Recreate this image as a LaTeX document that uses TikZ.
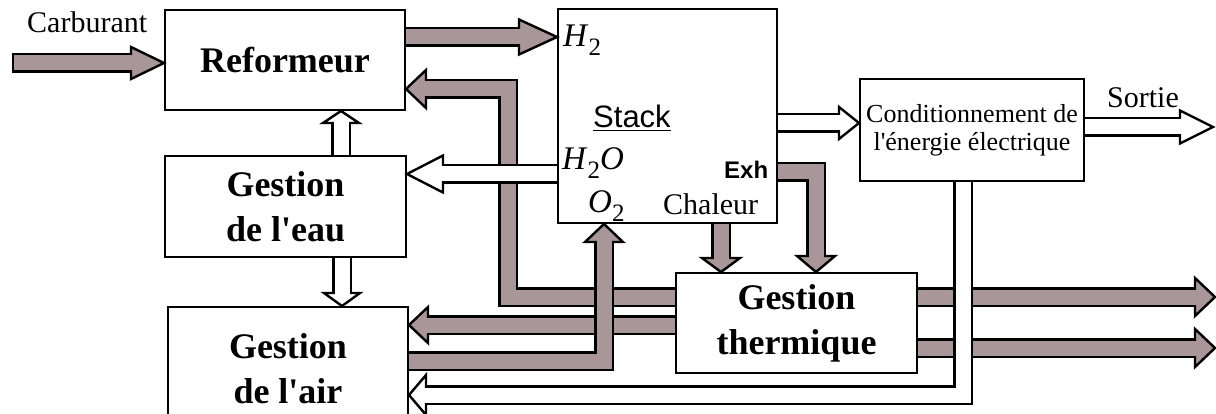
\documentclass[tikz,border=0pt]{standalone}
\usepackage{fontspec}
\setmainfont{Liberation Serif}
\setsansfont{Liberation Sans}
\usetikzlibrary{calc}
\definecolor{hatch}{RGB}{168,150,152}
% arrow heads: #1 fill, #2 tip, #3 length, #4 half width
\newcommand\headE[4]{\draw[hd,fill=#1] (#2) -- ++(-#3,-#4) -- ++(0,2*#4) -- cycle;}
\newcommand\headW[4]{\draw[hd,fill=#1] (#2) -- ++(#3,-#4) -- ++(0,2*#4) -- cycle;}
\newcommand\headN[4]{\draw[hd,fill=#1] (#2) -- ++(-#4,#3) -- ++(2*#4,0) -- cycle;}
\newcommand\headS[4]{\draw[hd,fill=#1] (#2) -- ++(-#4,-#3) -- ++(2*#4,0) -- cycle;}
% fat arrows: #1 colour, #2 start (or path), #3 tip, #4 head length, #5 head half width
\newcommand\fatE[5]{\draw[sout] (#2) -- ($(#3)+(-#4,0)$);\headE{#1}{#3}{#4}{#5}\draw[sin,draw=#1] (#2) -- ($(#3)+(-#4+1.6,0)$);}
\newcommand\fatW[5]{\draw[sout] (#2) -- ($(#3)+(#4,0)$);\headW{#1}{#3}{#4}{#5}\draw[sin,draw=#1] (#2) -- ($(#3)+(#4-1.6,0)$);}
\newcommand\fatN[5]{\draw[sout] (#2) -- ($(#3)+(0,#4)$);\headN{#1}{#3}{#4}{#5}\draw[sin,draw=#1] (#2) -- ($(#3)+(0,#4-1.6)$);}
\newcommand\fatS[5]{\draw[sout] (#2) -- ($(#3)+(0,-#4)$);\headS{#1}{#3}{#4}{#5}\draw[sin,draw=#1] (#2) -- ($(#3)+(0,-#4+1.6)$);}
\newcommand\apos{\textquotesingle}
\newcommand\subtwo{\raisebox{-9pt}{\fontsize{25}{25}\selectfont 2}}
\begin{document}
\begin{tikzpicture}[x=1pt,y=-1pt,
  box/.style={draw, line width=2pt, fill=white, inner sep=0pt, align=center,
    font=\bfseries\fontsize{36}{45}\selectfont},
  sout/.style={line width=19.8pt, draw=black, line join=miter, line cap=butt},
  sin/.style={line width=15pt, line join=miter, line cap=butt},
  hd/.style={line width=2.4pt, line join=miter, draw=black},
  lbl/.style={inner sep=0pt, anchor=base west, font=\fontsize{30}{30}\selectfont},
  chem/.style={inner sep=0pt, anchor=base west, font=\fontsize{33}{33}\selectfont}]
\path[use as bounding box, clip] (0,0) rectangle (1216,414);

% boxes
\node[box, minimum width=240pt, minimum height=100pt] (ref) at (285,60) {Reformeur};
\node[box, minimum width=219pt, minimum height=214pt] (stack) at (667.5,116) {};
\node[box, minimum width=224pt, minimum height=102pt,
  font=\fontsize{26}{28}\selectfont] (cond) at (972,130) {Conditionnement de\\l\apos énergie électrique};
\node[box, minimum width=241pt, minimum height=101pt] (eau) at (285.5,206.5) {Gestion\\de l\apos eau};
\node[box, minimum width=240pt, minimum height=123pt] (air) at (288,368.5) {Gestion\\de l\apos air};
\node[box, minimum width=241pt, minimum height=100pt] (therm) at (796.5,323) {Gestion\\thermique};

% coordinates
\coordinate (c0) at (12,63);
\coordinate (c1) at (ref.west |- c0);
\coordinate (h2a) at ($(ref.east)+(0,-23)$);
\coordinate (h2b) at (stack.west |- h2a);
\coordinate (a3s) at ($(therm.west)+(0,-26)$);
\coordinate (a3t) at ($(ref.east)+(0,29)$);
\coordinate (a3b1) at ($(a3s)+(-167,0)$);
\coordinate (a3b2) at (a3b1 |- a3t);
\coordinate (wa) at ($(stack.west)+(0,58)$);
\coordinate (wb) at (eau.east |- wa);
\coordinate (a5s) at ($(therm.west)+(0,2)$);
\coordinate (a5t) at (air.east |- a5s);
\coordinate (o2s) at ($(air.east)+(0,-7.5)$);
\coordinate (o2b) at ($(air.east)+(195,-7.5)$);
\coordinate (o2t) at (o2b |- stack.south);
\coordinate (cht) at ($(therm.north)+(-75.5,0)$);
\coordinate (chs) at (cht |- stack.south);
\coordinate (exs) at ($(stack.east)+(0,56)$);
\coordinate (exb) at ($(stack.east)+(38,56)$);
\coordinate (ext) at (exb |- therm.north);
\coordinate (t1s) at ($(therm.east)+(0,-26)$);
\coordinate (t1t) at (1215,297);
\coordinate (t2s) at ($(therm.east)+(0,25)$);
\coordinate (t2t) at (1215,348);
\coordinate (es) at ($(cond.south)+(-9,0)$);
\coordinate (ey) at (1000,395);
\coordinate (eb) at (es |- ey);
\coordinate (et) at (air.east |- eb);
\coordinate (pa) at ($(stack.east)+(0,7)$);
\coordinate (pb) at (cond.west |- pa);
\coordinate (sa) at ($(cond.east)+(0,-3)$);
\coordinate (sb) at (1213,127);
\coordinate (ua) at ($(eau.north)+(55.5,0)$);
\coordinate (ub) at (ua |- ref.south);
\coordinate (da) at ($(eau.south)+(56.5,0)$);
\coordinate (db) at (da |- air.north);

% connectors
\draw[sout] (c0) -- ($(c1)+(-33,0)$);
\headE{hatch}{c1}{33}{16}
\draw[sin,draw=hatch] ($(c0)+(2.4,0)$) -- ($(c1)+(-31.4,0)$);
\fatE{hatch}{h2a}{h2b}{38}{17.5}
\fatW{hatch}{a3s) -- (a3b1) -- (a3b2}{a3t}{20}{19}
\fatW{white}{wa}{wb}{36}{18.5}
\fatW{hatch}{a5s}{a5t}{19}{18}
\fatN{hatch}{o2s) -- (o2b}{o2t}{18}{19}
\fatS{hatch}{chs}{cht}{14}{19}
\fatS{hatch}{exs) -- (exb}{ext}{16}{19}
\fatE{hatch}{t1s}{t1t}{20}{19}
\fatE{hatch}{t2s}{t2t}{20}{19}
\fatW{white}{es) -- (eb}{et}{17}{20}
\fatE{white}{pa}{pb}{20}{16}
\fatE{white}{sa}{sb}{33}{16.5}
\fatN{white}{ua}{ub}{12}{18}
\fatS{white}{da}{db}{13}{18}

% labels
\node[lbl] (carb) at (27,33) {Carburant};
\node[lbl] (sortie) at (1107,108) {Sortie};
\node[lbl] (chal) at (663,215) {Chaleur};
\node[chem] (h2) at (563,47) {\textit{H}\subtwo};
\node[chem] (h2o) at (562,170) {\textit{H}\subtwo\textit{O}};
\node[chem] (o2) at (588,213) {\textit{O}\subtwo};
\node[inner sep=0pt, anchor=base west, font=\sffamily\fontsize{31}{31}\selectfont] (stk) at (593,128) {\underline{Stack}};
\node[inner sep=0pt, anchor=base west, font=\sffamily\bfseries\fontsize{24}{24}\selectfont] (exh) at (724,179) {Exh};
\end{tikzpicture}
\end{document}
